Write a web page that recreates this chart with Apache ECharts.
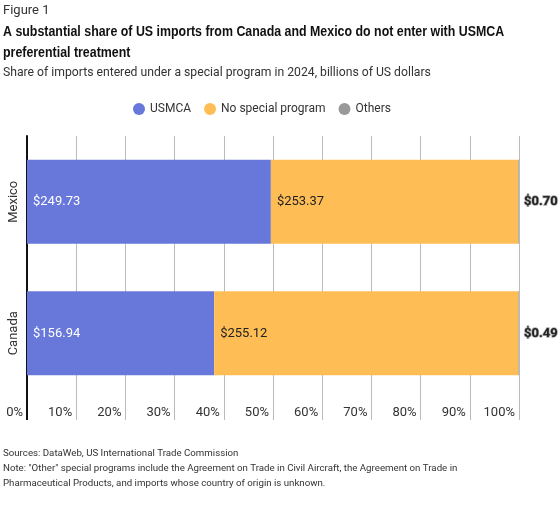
<!DOCTYPE html>
<html>
<head>
<meta charset="utf-8">
<script src="https://cdn.jsdelivr.net/npm/echarts@6/dist/echarts.min.js"></script>
<style>
  html, body { margin: 0; padding: 0; background: #fff; }
  #chart { width: 560px; height: 511px; }
</style>
</head>
<body>
<div id="chart"></div>
<script>
var countries = ["Mexico", "Canada"];
var usmca = [249.73, 156.94];
var noProgram = [253.37, 255.12];
var others = [0.70, 0.49];
var tickValues = [0, 10, 20, 30, 40, 50, 60, 70, 80, 90, 100];

var FONT = "Roboto";

// shares of each country's total, in percent
var totals = countries.map(function (c, i) {
  return usmca[i] + noProgram[i] + others[i];
});
function share(arr) {
  return arr.map(function (v, i) {
    return { value: (v / totals[i]) * 100, amount: v };
  });
}
function money(p) {
  return "$" + p.data.amount.toFixed(2);
}

var mychart = echarts.init(document.getElementById("chart"));
var option = {
  animation: false,
  textStyle: { fontFamily: FONT },
  title: [
    {
      text: "Figure 1",
      left: 3, top: 4, padding: 0,
      textStyle: { fontFamily: FONT, fontSize: 13, fontWeight: "normal", color: "#333" },
    },
    {
      text: "Share of imports entered under a special program in 2024, billions of US dollars",
      left: 3, top: 67, padding: 0,
      textStyle: { fontFamily: FONT, fontSize: 12.2, fontWeight: "normal", color: "#333" },
    },
    {
      text: "Sources: DataWeb, US International Trade Commission\nNote: \"Other\" special programs include the Agreement on Trade in Civil Aircraft, the Agreement on Trade in\nPharmaceutical Products, and imports whose country of origin is unknown.",
      left: 3, top: 446, padding: 0,
      textStyle: { fontFamily: FONT, fontSize: 9.7, fontWeight: "normal", color: "#333", lineHeight: 15 },
    },
  ],
  // the headline is set in a condensed face, so squeeze it a little
  graphic: [
    {
      type: "text",
      x: 3,
      y: 22,
      scaleX: 0.885,
      style: {
        text: "A substantial share of US imports from Canada and Mexico do not enter with USMCA\npreferential treatment",
        font: "bold 14px 'Liberation Sans'",
        fill: "#111",
        lineHeight: 21,
        verticalAlign: "top",
      },
    },
  ],
  legend: {
    top: 98,
    left: 128,
    icon: "circle",
    itemWidth: 12,
    itemHeight: 12,
    itemGap: 13,
    textStyle: { fontFamily: FONT, fontSize: 12, color: "#333" },
  },
  grid: { left: 27, right: 41, top: 136, bottom: 112 },
  xAxis: [
    {
      type: "value",
      min: 0,
      max: 100,
      interval: 10,
      axisLine: { show: false },
      axisTick: { show: true, length: 21, lineStyle: { color: "#bbb" } },
      splitLine: { show: true, lineStyle: { color: "#bbb" } },
      axisLabel: {
        align: "right",
        margin: 7,
        padding: [0, 4, 0, 0],
        fontSize: 13,
        color: "#333",
        formatter: "{value}%",
      },
    },
    {
      // black stub continuing the left axis line below the plot
      type: "value",
      position: "bottom",
      min: 0,
      max: 100,
      axisLine: { show: false },
      axisLabel: { show: false },
      splitLine: { show: false },
      axisTick: { show: true, length: 21, customValues: [0], lineStyle: { color: "#111", width: 2 } },
    },
  ],
  yAxis: {
    type: "category",
    inverse: true,
    data: countries,
    axisLine: { show: true, lineStyle: { color: "#111", width: 2 } },
    axisTick: { show: false },
    axisLabel: { rotate: 90, margin: 7, fontSize: 13, color: "#333" },
  },
  series: [
    {
      name: "USMCA",
      type: "bar",
      stack: "total",
      barWidth: 84,
      itemStyle: { color: "#6777DA" },
      label: { show: true, position: "insideLeft", distance: 6, color: "#fff", fontSize: 13, formatter: money },
      data: share(usmca),
    },
    {
      name: "No special program",
      type: "bar",
      stack: "total",
      itemStyle: { color: "#FFBE55" },
      label: { show: true, position: "insideLeft", distance: 6, color: "#222", fontSize: 13, formatter: money },
      data: share(noProgram),
    },
    {
      name: "Others",
      type: "bar",
      stack: "total",
      itemStyle: { color: "#999" },
      label: {
        show: true,
        position: "right",
        distance: 5,
        color: "#222",
        fontSize: 13,
        fontWeight: "bold",
        textBorderColor: "#aaa",
        textBorderWidth: 1.5,
        formatter: money,
      },
      data: share(others),
    },
  ],
};
mychart.setOption(option, true);
</script>
</body>
</html>
